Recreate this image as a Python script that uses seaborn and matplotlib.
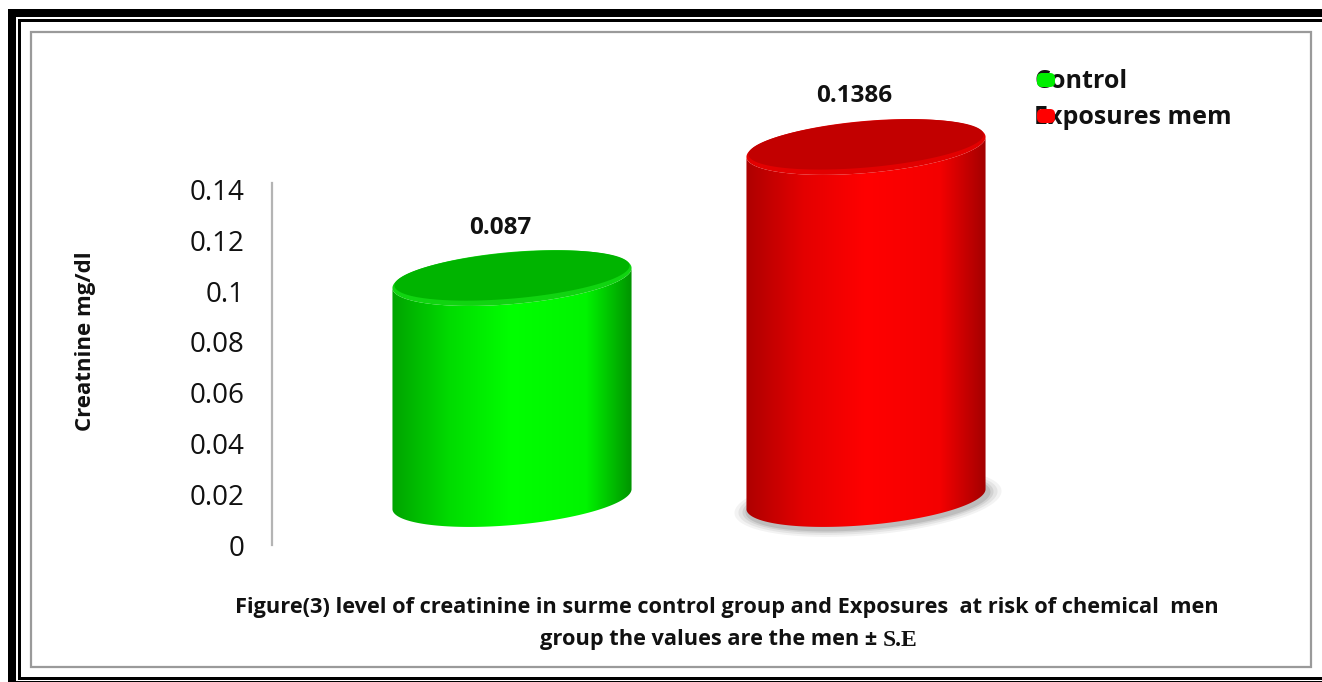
import numpy as np
import pandas as pd
import matplotlib
matplotlib.use("Agg")
import matplotlib.pyplot as plt
import seaborn as sns
from matplotlib.patches import Polygon, Rectangle, FancyBboxPatch

# ---------------- data ----------------
groups = ["Control", "Exposures mem"]
values = [0.087, 0.1386]
value_labels = ["0.087", "0.1386"]
y_ticks = [0, 0.02, 0.04, 0.06, 0.08, 0.10, 0.12, 0.14]
y_tick_labels = ["0", "0.02", "0.04", "0.06", "0.08", "0.1", "0.12", "0.14"]
y_label = "Creatnine mg/dl"
caption_line1 = "Figure(3) level of creatinine in surme control group and Exposures  at risk of chemical  men"
caption_line2a = "group the values are the men \u00b1 "
caption_line2b = "S.E"

# styles
body_colors = {
    "Control": ["#00a000", "#00dc00", "#00ff00", "#00f400", "#008c00"],
    "Exposures mem": ["#aa0000", "#e40000", "#ff0000", "#f40000", "#9c0000"],
}
top_fill = {"Control": "#00b400", "Exposures mem": "#c20000"}
top_rim = {"Control": "#10d410", "Exposures mem": "#e20000"}
legend_colors = {"Control": "#00ee00", "Exposures mem": "#ff0000"}

sns.set_theme(style="white")
plt.rcParams["font.family"] = ["Open Sans", "DejaVu Sans"]

W, H = 1322, 682
fig = plt.figure(figsize=(W / 100, H / 100), dpi=100)
fig.patch.set_facecolor("white")

px_per_x = 354.0
px_per_y = 2540.0
YMAX = 0.19
ax_left, ax_bottom_px, ax_w = 272, 545, 828
ax_h = YMAX * px_per_y
ax = fig.add_axes([ax_left / W, (H - ax_bottom_px) / H, ax_w / W, ax_h / H])
ax.set_facecolor("none")

xl = -240 / px_per_x
xr = (ax_w - 240) / px_per_x

df = pd.DataFrame({"group": groups, "value": values})
sns.barplot(data=df, x="group", y="value", hue="group", palette=legend_colors,
            width=240 / px_per_x, ax=ax, legend=False, errorbar=None)
ax.set_xlim(xl, xr)
ax.set_ylim(0, YMAX)

# axis styling
for s in ["top", "right", "bottom"]:
    ax.spines[s].set_visible(False)
ax.spines["left"].set_color("#b4b4b4")
ax.spines["left"].set_linewidth(1.6)
ax.spines["left"].set_bounds(0, 0.1424)
ax.set_yticks(y_ticks)
ax.set_yticklabels(y_tick_labels, fontsize=20, color="#111111")
ax.tick_params(axis="y", length=0, pad=20)
ax.set_xticks([])
ax.set_xlabel("")
ax.set_ylabel("")

# ---------------- cylinders ----------------
theta = np.deg2rad(5.0)
b_px = 26.0
base_offset = 46.0 / px_per_y  # 3D lift of the cylinder base


def ellipse_pts(cx, cy, a_px, b_px, t):
    dxp = a_px * np.cos(t) * np.cos(theta) - b_px * np.sin(t) * np.sin(theta)
    dyp = a_px * np.cos(t) * np.sin(theta) + b_px * np.sin(t) * np.cos(theta)
    return np.column_stack([cx + dxp / px_per_x, cy + dyp / px_per_y])


bars = sorted([p for p in ax.patches], key=lambda p: p.get_x())
for patch, g, lab in zip(bars, groups, value_labels):
    patch.set_visible(False)
    x0, w, h = patch.get_x(), patch.get_width(), patch.get_height()
    cx = x0 + w / 2
    a_px = w / 2 * px_per_x
    yb = base_offset
    yt = base_offset + h

    # soft shadow for the taller (red) cylinder
    if g == "Exposures mem":
        for k, al in zip([14, 10, 6, 3], [0.07, 0.09, 0.12, 0.16]):
            sh = ellipse_pts(cx + 2 / px_per_x, yb - 3 / px_per_y, a_px + k, b_px + k * 0.5,
                             np.linspace(0, 2 * np.pi, 200))
            ax.add_patch(Polygon(sh, closed=True, facecolor="#555555", edgecolor="none",
                                 alpha=al, zorder=2))

    t_low = np.linspace(np.pi, 2 * np.pi, 120)
    bottom_arc = ellipse_pts(cx, yb, a_px, b_px, t_low)
    top_arc = ellipse_pts(cx, yt, a_px, b_px, t_low)[::-1]
    body = np.vstack([bottom_arc, top_arc])
    body_poly = Polygon(body, closed=True, facecolor="none", edgecolor="none", zorder=3)
    ax.add_patch(body_poly)

    cmap = matplotlib.colors.LinearSegmentedColormap.from_list(
        g, list(zip([0.0, 0.25, 0.5, 0.8, 1.0], body_colors[g])))
    grad = np.linspace(0, 1, 256).reshape(1, -1)
    im = ax.imshow(grad, cmap=cmap, aspect="auto",
                   extent=[cx - w / 2 - 0.01, cx + w / 2 + 0.01,
                           body[:, 1].min(), body[:, 1].max()],
                   origin="lower", zorder=3, interpolation="bilinear")
    im.set_clip_path(body_poly)

    # top ellipse: rim + darker interior
    tt = np.linspace(0, 2 * np.pi, 240)
    ax.add_patch(Polygon(ellipse_pts(cx, yt, a_px, b_px, tt), closed=True,
                         facecolor=top_rim[g], edgecolor="none", zorder=4))
    ax.add_patch(Polygon(ellipse_pts(cx, yt + 2.5 / px_per_y, a_px - 2, b_px - 3, tt),
                         closed=True, facecolor=top_fill[g], edgecolor="none", zorder=5))

    ax.text(cx - 12 / px_per_x, h + 0.038, lab, ha="center", va="center",
            fontsize=17.5, fontweight="bold", color="#111111", zorder=6)

ax.set_xlim(xl, xr)
ax.set_ylim(0, YMAX)

# ---------------- overlay (pixel coords) ----------------
ov = fig.add_axes([0, 0, 1, 1])
ov.set_xlim(0, W)
ov.set_ylim(H, 0)
ov.axis("off")
ov.set_zorder(10)

# frames
ov.add_patch(Rectangle((31, 32), 1280, 635, facecolor="none", edgecolor="#9a9a9a", linewidth=1.6))
ov.add_patch(Rectangle((8, 9), W - 8, 8, facecolor="black", edgecolor="none"))
ov.add_patch(Rectangle((8, 9), 8, H - 9, facecolor="black", edgecolor="none"))
ov.add_patch(Rectangle((18, 19), W - 18, 2.5, facecolor="black", edgecolor="none"))
ov.add_patch(Rectangle((18, 19), 2.5, 661, facecolor="black", edgecolor="none"))
ov.add_patch(Rectangle((18, 677), W - 18, 2.5, facecolor="black", edgecolor="none"))
ov.add_patch(Rectangle((8, 681), W - 8, 1.5, facecolor="black", edgecolor="none"))

# y label
ov.text(85, 341, y_label, rotation=90, ha="center", va="center",
        fontsize=16, fontweight="bold", color="#111111")

# legend
leg_y = [88, 124]
for g, yb in zip(groups, leg_y):
    ov.text(1034, yb, g, ha="left", va="baseline", fontsize=18, fontweight="bold",
            color="#111111", zorder=1)
    ov.add_patch(FancyBboxPatch((1037, yb - 15), 18, 14,
                                boxstyle="round,pad=0,rounding_size=5",
                                facecolor=legend_colors[g], edgecolor="none", zorder=2))

# caption
ov.text(727, 607, caption_line1, ha="center", va="center", fontsize=15.7,
        fontweight="bold", color="#111111")
t1 = ov.text(0, 640, caption_line2a, ha="left", va="center", fontsize=15.7,
             fontweight="bold", color="#111111")
t2 = ov.text(0, 641, caption_line2b, ha="left", va="center", fontsize=17,
             fontweight="bold", color="#111111", family=["Liberation Serif", "DejaVu Serif"])
fig.canvas.draw()
r = fig.canvas.get_renderer()
w1 = t1.get_window_extent(r).width
w2 = t2.get_window_extent(r).width
start = 729 - (w1 + w2) / 2
t1.set_x(start)
t2.set_x(start + w1)

fig.savefig("out.png", dpi=100)
